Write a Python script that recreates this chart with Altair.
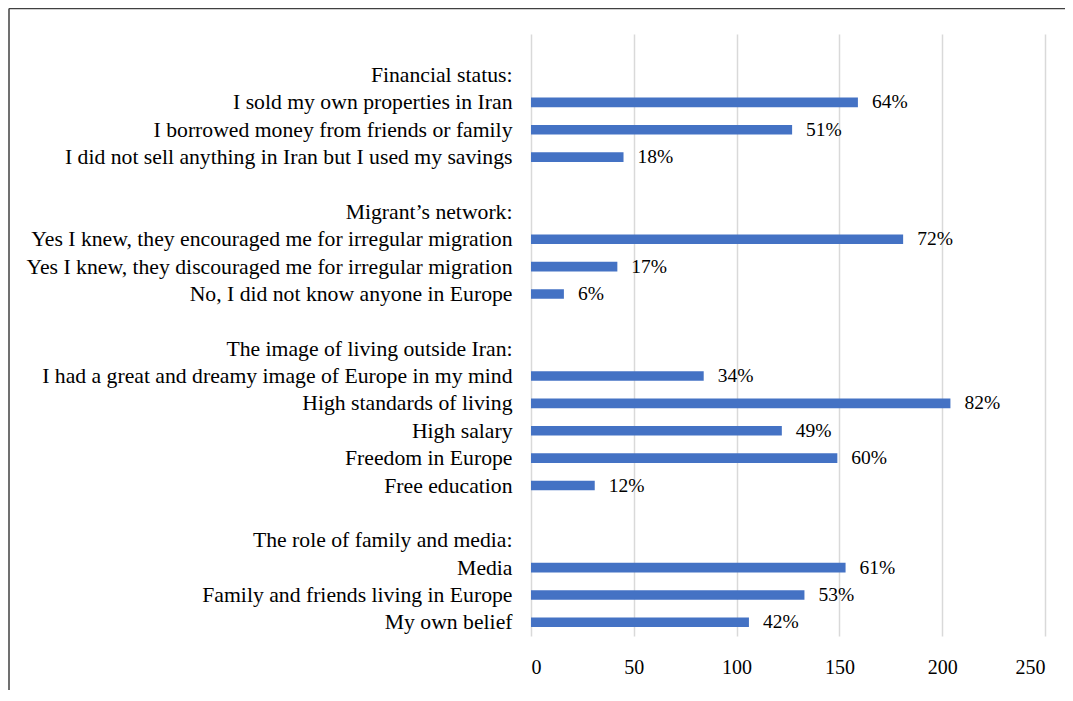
import altair as alt
import pandas as pd

rows = [
    " ",
    "Financial status:",
    "I sold my own properties in Iran",
    "I borrowed money from friends or family",
    "I did not sell anything in Iran but I used my savings",
    "  ",
    "Migrant’s network:",
    "Yes I knew, they encouraged me for irregular migration",
    "Yes I knew, they discouraged me for irregular migration",
    "No, I did not know anyone in Europe",
    "   ",
    "The image of living outside Iran:",
    "I had a great and dreamy image of Europe in my mind",
    "High standards of living",
    "High salary",
    "Freedom in Europe",
    "Free education",
    "    ",
    "The role of family and media:",
    "Media",
    "Family and friends living in Europe",
    "My own belief",
]
counts = [None, None, 159, 127, 45, None, None, 181, 42, 16, None, None,
          84, 204, 122, 149, 31, None, None, 153, 133, 106]
pcts = ["", "", "64%", "51%", "18%", "", "", "72%", "17%", "6%", "", "",
        "34%", "82%", "49%", "60%", "12%", "", "", "61%", "53%", "42%"]
ticks = [0, 50, 100, 150, 200, 250]

df = pd.DataFrame({"row": rows, "count": counts, "pct": pcts})

FONT = "Liberation Serif"

y_enc = alt.Y(
    "row:N",
    sort=rows,
    scale=alt.Scale(domain=rows, paddingInner=0.65, paddingOuter=0.325),
    axis=alt.Axis(
        title=None, ticks=False, domain=False, grid=False,
        labelFontSize=21.7, labelColor="black", labelPadding=19,
        labelLimit=0, labelFont=FONT,
    ),
)
x_enc = alt.X(
    "count:Q",
    scale=alt.Scale(domain=[0, 250], nice=False),
    axis=alt.Axis(
        title=None, values=ticks, ticks=False, domain=False, grid=True,
        gridColor="#d9d9d9", gridWidth=1.5, labelFontSize=20,
        labelColor="black", labelPadding=21, labelFont=FONT,
    ),
)

base = alt.Chart(df)
bars = base.mark_bar(color="#4472C4").encode(x=x_enc, y=y_enc)
labels = base.mark_text(
    align="left", baseline="middle", dx=14, fontSize=19.5, font=FONT, color="black"
).encode(x="count:Q", y=alt.Y("row:N", sort=rows), text="pct:N")

frame_df = pd.DataFrame({"a": [0]})
left_line = alt.Chart(frame_df).mark_rule(color="#404040", strokeWidth=1.5).encode(
    x=alt.value(-522), y=alt.value(-25.5), y2=alt.value(700)
)
top_line = alt.Chart(frame_df).mark_rule(color="#404040", strokeWidth=1.5).encode(
    x=alt.value(-522), x2=alt.value(600), y=alt.value(-25.5)
)

chart = (
    alt.layer(bars, labels, left_line, top_line)
    .properties(
        width=514,
        height=602,
        autosize=alt.AutoSizeParams(type="none"),
        padding={"left": 523, "top": 26, "right": 20, "bottom": 54},
    )
    .configure(font=FONT, view=alt.ViewConfig(strokeWidth=0, stroke="transparent"))
)

chart.save("out.html", embed_options={"renderer": "svg", "actions": False})
